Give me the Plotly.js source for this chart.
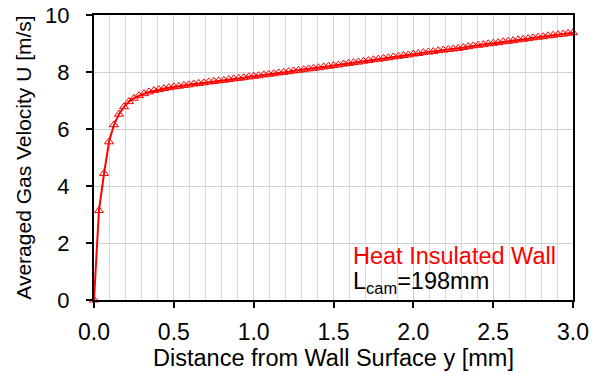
<!DOCTYPE html>
<html>
<head>
<meta charset="utf-8">
<script src="https://cdn.plot.ly/plotly-3.0.1.min.js"></script>
<style>html,body{margin:0;padding:0;background:#fff;}#chart{width:595px;height:378px;}</style>
</head>
<body>
<div id="chart"></div>
<script>
// Distance from wall surface y [mm]
var distance = [0.000,0.031,0.063,0.094,0.125,0.156,0.188,0.219,0.250,0.281,0.313,0.344,0.375,0.406,0.438,0.469,0.500,0.531,0.563,0.594,0.625,0.656,0.688,0.719,0.750,0.781,0.813,0.844,0.875,0.906,0.938,0.969,1.000,1.031,1.063,1.094,1.125,1.156,1.188,1.219,1.250,1.281,1.313,1.344,1.375,1.406,1.438,1.469,1.500,1.531,1.563,1.594,1.625,1.656,1.688,1.719,1.750,1.781,1.813,1.844,1.875,1.906,1.938,1.969,2.000,2.031,2.063,2.094,2.125,2.156,2.188,2.219,2.250,2.281,2.313,2.344,2.375,2.406,2.438,2.469,2.500,2.531,2.563,2.594,2.625,2.656,2.688,2.719,2.750,2.781,2.813,2.844,2.875,2.906,2.938,2.969,3.000];
// Averaged gas velocity U [m/s]
var velocity = [0,3.14,4.44,5.55,6.15,6.52,6.78,6.96,7.08,7.17,7.24,7.30,7.35,7.38,7.42,7.45,7.48,7.50,7.53,7.55,7.58,7.60,7.62,7.65,7.67,7.69,7.71,7.74,7.76,7.78,7.80,7.83,7.85,7.87,7.90,7.92,7.94,7.97,7.99,8.01,8.04,8.06,8.08,8.11,8.13,8.15,8.18,8.20,8.23,8.25,8.28,8.30,8.33,8.35,8.38,8.40,8.43,8.45,8.48,8.50,8.53,8.55,8.58,8.60,8.63,8.65,8.68,8.70,8.72,8.75,8.77,8.79,8.81,8.83,8.86,8.89,8.92,8.94,8.96,8.99,9.01,9.03,9.06,9.08,9.10,9.13,9.15,9.17,9.20,9.22,9.24,9.27,9.29,9.31,9.33,9.36,9.38];
var xTickVals = [0,0.5,1,1.5,2,2.5,3];
var xTickText = ["0.0","0.5","1.0","1.5","2.0","2.5","3.0"];
var yTickVals = [0,2,4,6,8,10];
var labelLine1 = "Heat Insulated Wall";
var labelLine2 = "L<sub>cam</sub>=198mm";

var font = "Liberation Sans, Arial, sans-serif";
var trace = {
  x: distance, y: velocity, type: "scatter", mode: "lines+markers",
  line: {color: "#ff0000", width: 2},
  marker: {symbol: "triangle-up-open", size: 8, color: "#ff0000", line: {width: 1}},
  cliponaxis: false
};
var layout = {
  width: 595, height: 378,
  margin: {l: 94, r: 22, t: 15, b: 78},
  paper_bgcolor: "#ffffff", plot_bgcolor: "#ffffff",
  showlegend: false,
  font: {family: font, size: 22, color: "#000"},
  xaxis: {
    range: [0, 3], tickvals: xTickVals, ticktext: xTickText,
    ticks: "outside", ticklen: 6, tickwidth: 2, tickcolor: "#000",
    showline: true, linewidth: 2, linecolor: "#000", mirror: true,
    showgrid: true, gridcolor: "#d0d0d0", gridwidth: 1,
    minor: {dtick: 0.1, showgrid: true, gridcolor: "#d9d9d9", gridwidth: 1, ticks: ""},
    zeroline: false,
    ticklabelstandoff: 4,
    tickfont: {size: 23, family: font},
    title: {text: "Distance from Wall Surface y [mm]", font: {size: 23.5, family: font}, standoff: 4}
  },
  yaxis: {
    range: [0, 10], tickvals: yTickVals,
    ticks: "outside", ticklen: 6, tickwidth: 2, tickcolor: "#000",
    showline: true, linewidth: 2, linecolor: "#000", mirror: true,
    showgrid: true, gridcolor: "#d0d0d0", gridwidth: 1,
    zeroline: false,
    ticklabelstandoff: 12,
    tickfont: {size: 22, family: font},
    title: {text: "Averaged Gas Velocity U [m/s]", font: {size: 21, family: font}, standoff: 8}
  },
  annotations: [
    {xref: "paper", yref: "paper", x: 0.537, y: 0.155, xanchor: "left", yanchor: "middle",
     text: labelLine1, showarrow: false, font: {size: 23.5, color: "#ff0000", family: font}},
    {xref: "paper", yref: "paper", x: 0.537, y: 0.06, xanchor: "left", yanchor: "middle",
     text: labelLine2, showarrow: false, font: {size: 23.5, color: "#000", family: font}}
  ]
};
Plotly.newPlot("chart", [trace], layout, {displayModeBar: false, staticPlot: true});
</script>
</body>
</html>
